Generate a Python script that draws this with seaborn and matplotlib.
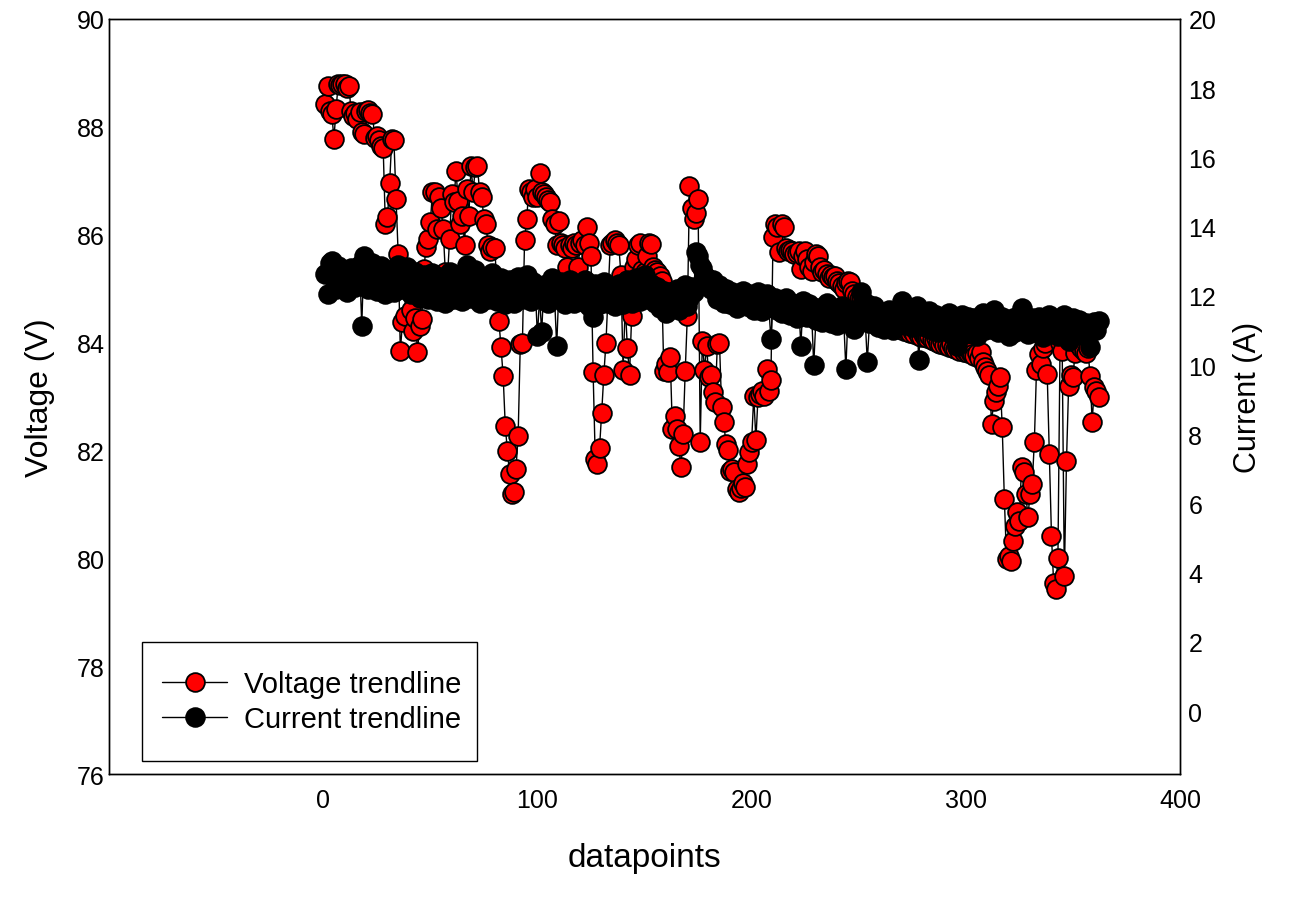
import numpy as np
import pandas as pd
import matplotlib
matplotlib.use("Agg")
import matplotlib.pyplot as plt
from matplotlib.lines import Line2D
from matplotlib.patches import Rectangle
import seaborn as sns

voltage = [
    88.42, 88.76, 88.30, 88.24, 87.78, 88.33, 88.80, 88.78, 88.80, 88.80,
    88.72, 88.75, 88.30, 88.20, 88.25, 88.15, 88.27, 87.90, 87.87, 88.30,
    88.32, 88.25, 88.24, 87.80, 87.83, 87.75, 87.65, 87.60, 86.20, 86.33,
    86.95, 87.78, 87.76, 86.66, 85.64, 83.84, 84.38, 84.50, 85.40, 85.30,
    84.60, 84.21, 84.45, 83.83, 84.30, 84.44, 85.36, 85.77, 85.92, 86.24,
    86.79, 86.80, 86.10, 86.70, 86.50, 86.10, 85.30, 85.20, 85.92, 86.75,
    86.60, 87.18, 86.63, 86.20, 86.35, 85.80, 86.85, 86.35, 87.27, 86.79,
    87.25, 87.27, 86.80, 86.70, 86.29, 86.20, 85.80, 85.70, 85.77, 85.76,
    85.18, 84.40, 83.92, 83.38, 82.45, 81.99, 81.56, 81.20, 81.23, 81.66,
    82.27, 83.97, 84.00, 85.90, 86.30, 86.85, 86.80, 86.70, 86.85, 86.70,
    87.15, 86.80, 86.75, 86.70, 86.65, 86.60, 86.30, 86.20, 85.80, 86.25,
    85.85, 85.80, 85.75, 85.40, 85.80, 85.75, 85.85, 85.80, 85.40, 85.85,
    85.90, 85.80, 86.15, 85.85, 85.60, 83.45, 81.85, 81.75, 82.05, 82.70,
    83.40, 84.00, 84.90, 85.80, 85.85, 85.90, 85.85, 85.80, 85.25, 83.50,
    84.70, 83.90, 83.40, 84.50, 85.40, 85.55, 85.80, 85.85, 85.35, 85.30,
    85.60, 85.85, 85.83, 85.40, 85.35, 85.30, 85.23, 85.15, 83.47, 83.60,
    83.45, 83.73, 82.40, 82.64, 82.40, 82.08, 81.69, 82.30, 83.47, 84.50,
    86.90, 86.50, 86.29, 86.40, 86.66, 82.16, 84.03, 83.50, 83.94, 83.36,
    83.40, 83.08, 82.90, 83.97, 84.00, 82.80, 82.53, 82.12, 82.00, 81.62,
    81.65, 81.60, 81.28, 81.23, 81.30, 81.40, 81.32, 81.75, 81.97, 82.16,
    83.01, 82.20, 83.00, 83.05, 83.10, 83.01, 83.51, 83.10, 83.30, 85.96,
    86.20, 86.15, 85.68, 86.20, 86.15, 85.75, 85.70, 85.72, 85.70, 85.65,
    85.66, 85.70, 85.36, 85.60, 85.70, 85.55, 85.40, 85.33, 85.50, 85.64,
    85.60, 85.40, 85.30, 85.35, 85.28, 85.20, 85.25, 85.22, 85.23, 85.15,
    85.10, 85.05, 85.00, 85.10, 85.15, 85.12, 84.95, 84.90, 84.85, 84.80,
    84.80, 84.75, 84.70, 84.72, 84.65, 84.60, 84.62, 84.55, 84.50, 84.52,
    84.45, 84.40, 84.42, 84.38, 84.35, 84.30, 84.32, 84.28, 84.25, 84.30,
    84.22, 84.25, 84.20, 84.18, 84.22, 84.15, 84.20, 84.12, 84.10, 84.15,
    84.10, 84.08, 84.12, 84.05, 84.02, 84.08, 84.00, 83.98, 84.02, 83.95,
    83.95, 83.92, 83.98, 83.90, 83.88, 83.92, 83.85, 83.88, 83.82, 83.85,
    83.80, 83.82, 83.78, 83.75, 83.80, 83.72, 83.82, 83.64, 83.55, 83.47,
    83.40, 82.49, 82.92, 83.08, 83.20, 83.36, 82.43, 81.10, 79.99, 80.05,
    79.95, 80.32, 80.60, 80.86, 80.70, 81.69, 81.60, 81.20, 80.77, 81.20,
    81.38, 82.16, 83.50, 83.79, 83.60, 83.90, 84.00, 83.42, 81.93, 80.41,
    79.55, 79.43, 80.00, 84.00, 83.85, 79.67, 81.80, 83.20, 83.40, 83.36,
    83.80, 84.00, 83.95, 83.90, 83.85, 83.80, 83.90, 83.38, 82.53, 83.18,
    83.10, 82.99,
]

current = [
    12.62, 12.05, 12.95, 13.02, 12.55, 12.20, 12.85, 12.40, 12.30, 12.55,
    12.10, 12.45, 12.80, 12.50, 12.25, 12.60, 12.90, 11.13, 13.15, 12.50,
    12.20, 12.70, 12.95, 12.40, 12.15, 12.60, 12.85, 12.30, 12.05, 12.55,
    12.75, 12.35, 12.10, 12.50, 12.90, 12.40, 12.20, 12.60, 12.80, 12.25,
    12.05, 12.45, 12.70, 12.15, 11.95, 12.35, 12.60, 12.20, 11.90, 12.40,
    12.65, 12.10, 11.85, 12.30, 12.55, 12.00, 11.80, 12.25, 12.70, 12.15,
    11.90, 12.35, 12.60, 12.05, 11.85, 12.45, 12.90, 12.20, 11.95, 12.50,
    12.75, 12.10, 11.80, 12.30, 12.55, 12.00, 11.90, 12.40, 12.65, 12.15,
    11.85, 12.25, 12.50, 11.95, 11.75, 12.20, 12.45, 12.00, 11.80, 12.30,
    12.55, 12.05, 11.90, 12.35, 12.60, 12.10, 11.85, 12.40, 12.20, 10.84,
    11.95, 10.95, 12.30, 12.05, 11.80, 12.25, 12.50, 11.95, 10.55, 12.15,
    12.40, 11.90, 11.75, 12.20, 12.45, 12.00, 11.80, 12.30, 12.10, 11.85,
    12.25, 12.45, 11.95, 11.70, 12.15, 11.40, 12.35, 11.90, 11.75, 12.20,
    12.40, 11.95, 11.80, 12.25, 12.05, 11.70, 12.15, 12.35, 11.90, 11.75,
    12.20, 12.45, 12.00, 11.80, 12.25, 12.50, 12.05, 11.85, 12.30, 12.60,
    12.15, 11.90, 12.35, 12.05, 11.80, 12.25, 11.65, 11.95, 12.15, 11.50,
    11.85, 12.10, 11.75, 11.95, 12.20, 11.60, 11.85, 12.05, 12.30, 11.70,
    11.95, 12.25, 12.10, 13.27, 13.15, 12.90, 12.80, 12.60, 12.50, 12.35,
    12.20, 12.45, 12.10, 11.90, 12.30, 12.05, 11.80, 12.20, 11.95, 11.75,
    12.10, 11.85, 11.65, 12.00, 11.80, 12.15, 11.90, 11.70, 12.05, 11.85,
    11.60, 11.95, 12.10, 11.75, 11.55, 11.90, 12.05, 11.70, 10.75, 11.85,
    11.95, 11.60, 11.80, 11.50, 11.75, 11.95, 11.65, 11.45, 11.80, 11.55,
    11.35, 11.70, 10.55, 11.85, 11.60, 11.40, 11.75, 11.50, 10.00, 11.30,
    11.65, 11.45, 11.25, 11.55, 11.80, 11.40, 11.20, 11.60, 11.35, 11.15,
    11.50, 11.70, 11.30, 9.88, 11.45, 11.60, 11.25, 11.05, 11.40, 11.55,
    12.10, 11.85, 11.35, 10.10, 11.20, 11.50, 11.70, 11.30, 11.10, 11.45,
    11.25, 11.05, 11.40, 11.60, 11.20, 11.00, 11.35, 11.55, 11.15, 11.85,
    11.40, 11.20, 11.50, 11.65, 11.10, 11.30, 11.70, 10.15, 11.25, 11.45,
    11.10, 11.35, 11.55, 11.00, 11.25, 11.45, 10.95, 11.20, 11.40, 11.05,
    11.30, 11.50, 10.90, 11.15, 11.35, 10.55, 11.25, 11.45, 11.00, 11.20,
    11.40, 10.95, 11.15, 11.35, 10.85, 11.10, 11.30, 11.50, 11.00, 11.20,
    11.45, 11.05, 11.60, 11.25, 10.95, 11.15, 11.40, 11.00, 11.20, 10.85,
    11.10, 11.35, 10.95, 11.20, 11.45, 11.65, 11.05, 11.25, 10.90, 11.15,
    11.35, 10.95, 11.20, 11.40, 11.00, 10.80, 11.15, 11.30, 11.45, 10.95,
    11.10, 11.30, 10.85, 11.05, 11.25, 11.45, 11.00, 10.70, 11.15, 11.35,
    11.05, 10.90, 11.30, 11.15, 10.95, 11.20, 11.05, 10.52, 11.10, 11.25,
    11.00, 11.27,
]

n = min(len(voltage), len(current))
datapoints = list(range(1, n + 1))
df = pd.DataFrame({"datapoints": datapoints,
                   "voltage": voltage[:n],
                   "current": current[:n]})

sns.set_style("white")
plt.rcParams["font.family"] = ["Liberation Sans", "DejaVu Sans"]
plt.rcParams["text.color"] = "black"
plt.rcParams["axes.labelcolor"] = "black"

fig = plt.figure(figsize=(13.01, 9.03), dpi=100)
ax = fig.add_axes([0.0838, 0.1417, 0.8232, 0.8362])
ax2 = ax.twinx()

ms = 13.5
sns.lineplot(data=df, x="datapoints", y="voltage", ax=ax, color="black",
             linewidth=1.0, marker="o", markersize=ms, markerfacecolor="#ff0000",
             markeredgecolor="black", markeredgewidth=1.3, legend=False)
sns.lineplot(data=df, x="datapoints", y="current", ax=ax2, color="black",
             linewidth=1.0, marker="o", markersize=ms, markerfacecolor="black",
             markeredgecolor="black", markeredgewidth=1.3, legend=False)

ax.set_xlim(-100, 400)
ax.set_ylim(76, 90)
ax.set_xticks([0, 100, 200, 300, 400])
ax.set_yticks(np.arange(76, 91, 2))
ax2.set_ylim(-1.82, 20)
ax2.set_yticks(np.arange(0, 21, 2))

for a in (ax, ax2):
    for s in a.spines.values():
        s.set_color("black")
        s.set_linewidth(1.0)
    a.tick_params(labelsize=18, colors="black", length=0)
ax.tick_params(axis="y", pad=3)
ax.tick_params(axis="x", pad=10)
ax2.tick_params(axis="y", pad=6)

ax.set_xlabel("datapoints", fontsize=24, labelpad=22)
ax.set_ylabel("Voltage (V)", fontsize=23, labelpad=16)
ax2.set_ylabel("Current (A)", fontsize=22, labelpad=12)

# legend frame (drawn as a patch) and legend content
bx0, by0, bw, bh = 0.0308, 0.0172, 0.3128, 0.1576
frame = Rectangle((bx0, by0), bw, bh, transform=ax2.transAxes,
                  facecolor="white", edgecolor="black", linewidth=1.0, zorder=5)
ax2.add_patch(frame)

handles = [
    Line2D([0], [0], color="black", lw=1.0, marker="o", markersize=ms,
           markerfacecolor="#ff0000", markeredgecolor="black", markeredgewidth=1.3),
    Line2D([0], [0], color="black", lw=1.0, marker="o", markersize=ms,
           markerfacecolor="black", markeredgecolor="black", markeredgewidth=1.3),
]
leg = ax2.legend(handles, ["Voltage trendline", "Current trendline"],
                 loc="center left", bbox_to_anchor=(bx0, by0, bw, bh),
                 borderaxespad=0, fontsize=21, frameon=False,
                 handlelength=2.2, borderpad=0.7,
                 labelspacing=0.25, handletextpad=0.6)
leg.set_zorder(6)

fig.savefig("out.png", dpi=100)
